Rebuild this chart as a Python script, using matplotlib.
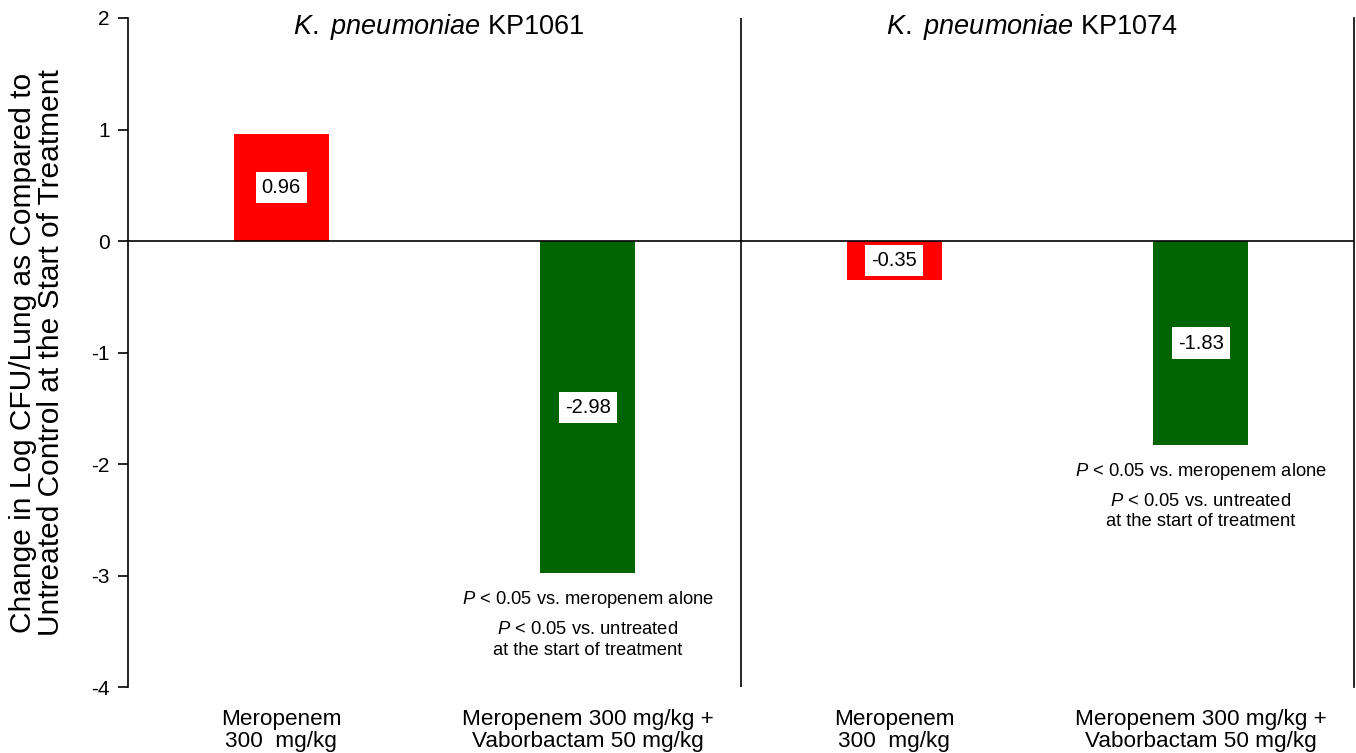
import matplotlib
matplotlib.use('Agg')
import matplotlib.pyplot as plt

plt.rcParams['font.family'] = ['Liberation Sans', 'DejaVu Sans']
plt.rcParams['axes.unicode_minus'] = False
plt.rcParams['mathtext.fontset'] = 'custom'
plt.rcParams['mathtext.rm'] = 'Liberation Sans'
plt.rcParams['mathtext.it'] = 'Liberation Sans:italic'

categories = ['Meropenem\n300  mg/kg', 'Meropenem 300 mg/kg +\nVaborbactam 50 mg/kg',
              'Meropenem\n300  mg/kg', 'Meropenem 300 mg/kg +\nVaborbactam 50 mg/kg']
values = [0.96, -2.98, -0.35, -1.83]
colors = ['#FF0000', '#006400', '#FF0000', '#006400']
labels = ['0.96', '-2.98', '-0.35', '-1.83']
strains = ['KP1061', 'KP1074']
sig_bars = [1, 3]

fig = plt.figure(figsize=(13.56, 7.53), dpi=100)
ax = fig.add_axes([0.0944, 0.0876, 0.904, 0.8885])

x = list(range(len(values)))
ax.bar(x, values, width=0.31, color=colors, zorder=2)
ax.axhline(0, color='black', linewidth=1.2, zorder=3)
ax.axvline(1.5, color='black', linewidth=1.2)

for xi, v, lab in zip(x, values, labels):
    ax.text(xi, v / 2, lab, ha='center', va='center', fontsize=14.5, zorder=4,
            bbox=dict(boxstyle='square,pad=0.3', facecolor='white', edgecolor='none'))

for i in sig_bars:
    v = values[i]
    ax.annotate('$\\it{P}$ < 0.05 vs. meropenem alone', xy=(i, v), xytext=(0, -19),
                textcoords='offset points', ha='center', va='center', fontsize=13.2)
    ax.annotate('$\\it{P}$ < 0.05 vs. untreated\nat the start of treatment', xy=(i, v),
                xytext=(0, -48), textcoords='offset points', ha='center', va='center',
                fontsize=13.2, linespacing=1.25)

title_x = [0.515, 2.45]
for tx, s in zip(title_x, strains):
    ax.text(tx, 1.92, '$\\it{K.}$ $\\it{pneumoniae}$ ' + s, ha='center', va='center', fontsize=19.5)

ax.set_xlim(-0.5, 3.5)
ax.set_ylim(-4, 2)
ax.set_yticks([2, 1, 0, -1, -2, -3, -4])
ax.set_xticks(x)
ax.set_xticklabels(categories, fontsize=16.2, linespacing=1.05)
ax.tick_params(axis='x', length=0, pad=16)
ax.tick_params(axis='y', labelsize=15, direction='out', length=7, width=1.2, pad=6)
ax.spines['top'].set_visible(False)
ax.spines['bottom'].set_visible(False)
ax.spines['left'].set_linewidth(1.2)
ax.spines['right'].set_linewidth(1.2)
ax.set_ylabel('Change in Log CFU/Lung as Compared to\nUntreated Control at the Start of Treatment',
              fontsize=21.5, linespacing=1.0, labelpad=19)

fig.savefig('out.png', dpi=100)
